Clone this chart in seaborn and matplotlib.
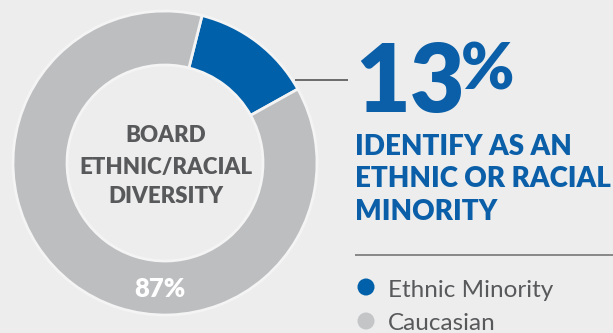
import matplotlib
matplotlib.use("Agg")
import matplotlib.pyplot as plt
import seaborn as sns
import pandas as pd

# Board composition data
groups = ["Ethnic Minority", "Caucasian"]
shares = [13, 87]
colors = ["#0060a9", "#bdbec0"]

headline_value = "13"
headline_text = ["IDENTIFY AS AN", "ETHNIC OR RACIAL", "MINORITY"]
center_title = ["BOARD", "ETHNIC/RACIAL", "DIVERSITY"]

BG = "#ededed"
BLUE = "#0a5fa8"
DARK = "#58595b"
HEAVY = "heavy"

sns.set_theme(style="white")
plt.rcParams["font.family"] = ["Lato", "DejaVu Sans"]

W, H = 613, 333
fig = plt.figure(figsize=(W / 100, H / 100), dpi=100, facecolor=BG)
ax = fig.add_axes([0, 0, 1, 1])
ax.set_facecolor(BG)

# Donut ring
cx, cy, r = 165, 170, 152
blue_mid = 52.5  # angular centre of the minority wedge
start = blue_mid + shares[0] / sum(shares) * 360 / 2
ax.pie(shares, colors=colors, startangle=start, counterclock=False,
       center=(cx, cy), radius=r,
       wedgeprops=dict(width=54, edgecolor="#f4f4f4", linewidth=2))

# Title inside the ring
for txt, yb in zip(center_title, [191, 159, 130]):
    ax.text(166, yb, txt, ha="center", va="baseline", fontsize=16,
            fontweight=HEAVY, color=DARK)

ax.text(160, 36, f"{shares[1]}%", ha="center", va="baseline", fontsize=18.5,
        fontweight=HEAVY, color="white")

# Connector from wedge to headline
ax.plot([295, 348], [253.5, 253.5], color="#555555", lw=1.2,
        solid_capstyle="butt")

# Headline figure
ax.text(355, 221, headline_value, ha="left", va="baseline", fontsize=68,
        fontweight=HEAVY, color=BLUE)
ax.text(461, 243, "%", ha="left", va="baseline", fontsize=46,
        fontweight=HEAVY, color=BLUE)
for txt, yb in zip(headline_text, [178, 146, 113]):
    ax.text(355, yb, txt, ha="left", va="baseline", fontsize=20,
            fontweight=HEAVY, color=BLUE)

# Divider
ax.plot([355, 613], [78, 78], color="#777777", lw=1.2, solid_capstyle="butt")

# Legend
leg = pd.DataFrame({"x": [366, 366], "y": [46, 12], "group": groups})
sns.scatterplot(data=leg, x="x", y="y", hue="group",
                palette=dict(zip(groups, ["#0060a9", "#c4c5c7"])),
                s=150, linewidth=0, legend=False, ax=ax)
for g, yb in zip(groups, [36, 3]):
    ax.text(388, yb, g, ha="left", va="baseline", fontsize=17.5, color=DARK)

ax.set_xlim(0, W)
ax.set_ylim(0, H)
ax.set_aspect("equal")
ax.set_axis_off()

fig.savefig("out.png", dpi=100, facecolor=BG)
